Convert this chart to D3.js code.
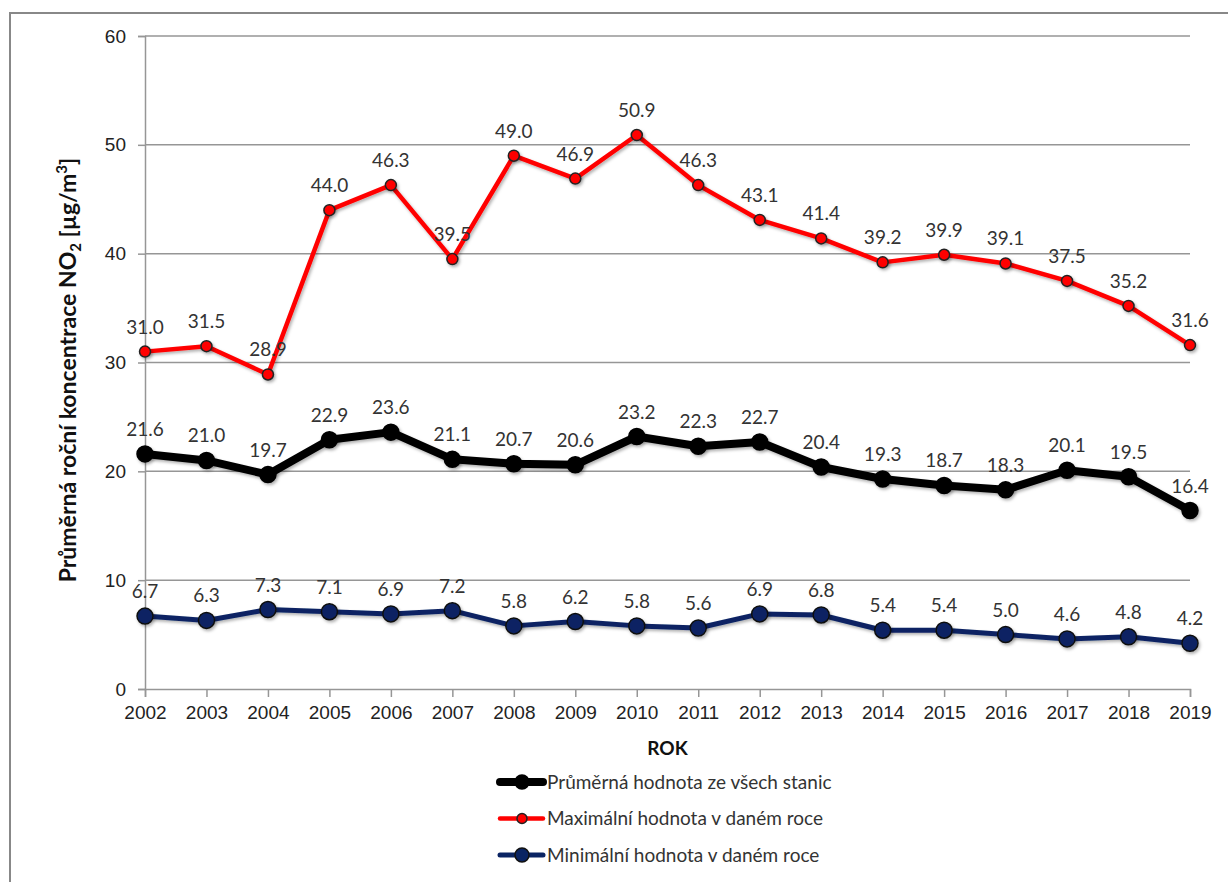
<!DOCTYPE html>
<html>
<head>
<meta charset="utf-8">
<script src="https://cdn.jsdelivr.net/npm/d3@7"></script>
<style>
  body { margin: 0; background: #fff; }
  svg { font-family: Lato, "Open Sans", sans-serif; }
</style>
</head>
<body>
<script>
var years = ["2002","2003","2004","2005","2006","2007","2008","2009","2010","2011","2012","2013","2014","2015","2016","2017","2018","2019"];
var avgValues = [21.6, 21.0, 19.7, 22.9, 23.6, 21.1, 20.7, 20.6, 23.2, 22.3, 22.7, 20.4, 19.3, 18.7, 18.3, 20.1, 19.5, 16.4];
var maxValues = [31.0, 31.5, 28.9, 44.0, 46.3, 39.5, 49.0, 46.9, 50.9, 46.3, 43.1, 41.4, 39.2, 39.9, 39.1, 37.5, 35.2, 31.6];
var minValues = [6.7, 6.3, 7.3, 7.1, 6.9, 7.2, 5.8, 6.2, 5.8, 5.6, 6.9, 6.8, 5.4, 5.4, 5.0, 4.6, 4.8, 4.2];
var yTicks = [0, 10, 20, 30, 40, 50, 60];
var seriesNames = ["Průměrná hodnota ze všech stanic", "Maximální hodnota v daném roce", "Minimální hodnota v daném roce"];

var W = 1228, H = 882,
    margin = {top: 36, right: 38, bottom: 193, left: 145},
    width = W - margin.left - margin.right,
    height = H - margin.top - margin.bottom;

var svg = d3.select("body").append("svg")
    .attr("width", W)
    .attr("height", H);

// soft shadow like the original
var defs = svg.append("defs");
var f = defs.append("filter").attr("id", "shadow").attr("x", "-50%").attr("y", "-50%").attr("width", "200%").attr("height", "200%");
f.append("feDropShadow").attr("dx", 1.5).attr("dy", 2).attr("stdDeviation", 1.5).attr("flood-color", "#000").attr("flood-opacity", 0.3);

// outer frame (right and bottom edges fall outside the picture)
svg.append("path")
    .attr("d", "M10," + H + "V13H" + W)
    .attr("fill", "none")
    .attr("stroke", "#888")
    .attr("stroke-width", 2);

var g = svg.append("g").attr("transform", "translate(" + margin.left + "," + margin.top + ")");

var x = d3.scalePoint().domain(years).range([0, width]);
var y = d3.scaleLinear().domain([0, 60]).range([height, 0]);

// gridlines
g.append("g")
  .selectAll("line")
  .data(yTicks.filter(function(d) { return d > 0; }))
  .enter().append("line")
    .attr("x1", 0).attr("x2", width)
    .attr("y1", function(d) { return y(d); })
    .attr("y2", function(d) { return y(d); })
    .attr("stroke", "#969696")
    .attr("stroke-width", 1.5);

var yAxis = g.append("g")
    .call(d3.axisLeft(y).tickValues(yTicks).tickSize(7).tickPadding(12));
var xAxis = g.append("g")
    .attr("transform", "translate(0," + height + ")")
    .call(d3.axisBottom(x).tickSize(8).tickPadding(5));

[yAxis, xAxis].forEach(function(a) {
  a.select(".domain").attr("stroke", "#969696").attr("stroke-width", 1.5);
  a.selectAll(".tick line").attr("stroke", "#969696").attr("stroke-width", 1.5);
  a.selectAll(".tick text").attr("fill", "#222").style("font-size", "19px");
});
xAxis.selectAll(".tick text").attr("dy", "0.9em");

// axis titles
g.append("text")
    .attr("x", width / 2)
    .attr("y", height + 66)
    .attr("text-anchor", "middle")
    .style("font-size", "19px")
    .style("font-weight", "bold")
    .attr("fill", "#111")
    .text("ROK");

var yt = svg.append("text")
    .attr("transform", "translate(76," + (margin.top + 334) + ") rotate(-90)")
    .attr("text-anchor", "middle")
    .style("font-size", "23px")
    .style("font-weight", "bold")
    .attr("fill", "#111");
yt.append("tspan").text("Průměrná roční koncentrace NO");
yt.append("tspan").attr("dy", 5).style("font-size", "15px").text("2");
yt.append("tspan").attr("dy", -5).text(" [µg/m");
yt.append("tspan").attr("dy", -9).style("font-size", "15px").text("3");
yt.append("tspan").attr("dy", 9).text("]");

var series = [
  {name: seriesNames[0], values: avgValues, line: "#000", lw: 8, r: 8, fill: "#000", stroke: "#000"},
  {name: seriesNames[1], values: maxValues, line: "#ff0000", lw: 4.5, r: 5.5, fill: "#ff0000", stroke: "#222"},
  {name: seriesNames[2], values: minValues, line: "#0a2463", lw: 5, r: 8, fill: "#0a2463", stroke: "#111"}
];

var line = d3.line()
    .x(function(d, i) { return x(years[i]); })
    .y(function(d) { return y(d); });

var s = g.selectAll(".series")
    .data(series)
    .enter().append("g")
    .attr("class", "series");

s.append("path")
    .attr("d", function(d) { return line(d.values); })
    .attr("fill", "none")
    .attr("stroke", function(d) { return d.line; })
    .attr("stroke-width", function(d) { return d.lw; })
    .attr("stroke-linejoin", "round")
    .attr("filter", "url(#shadow)");

s.selectAll("circle")
    .data(function(d) { return d.values.map(function(v, i) { return {v: v, i: i, s: d}; }); })
    .enter().append("circle")
    .attr("cx", function(d) { return x(years[d.i]); })
    .attr("cy", function(d) { return y(d.v); })
    .attr("r", function(d) { return d.s.r; })
    .attr("fill", function(d) { return d.s.fill; })
    .attr("stroke", function(d) { return d.s.stroke; })
    .attr("stroke-width", 1.5)
    .attr("filter", "url(#shadow)");

s.selectAll("text.lbl")
    .data(function(d) { return d.values.map(function(v, i) { return {v: v, i: i}; }); })
    .enter().append("text")
    .attr("class", "lbl")
    .attr("x", function(d) { return x(years[d.i]); })
    .attr("y", function(d) { return y(d.v) - 18; })
    .attr("text-anchor", "middle")
    .style("font-size", "19px")
    .attr("fill", "#333")
    .text(function(d) { return d3.format(".1f")(d.v); });

// legend
var legend = svg.append("g")
    .attr("transform", "translate(498,782)");

var li = legend.selectAll("g")
    .data(series)
    .enter().append("g")
    .attr("transform", function(d, i) { return "translate(0," + (i * 36.5) + ")"; });

li.append("line")
    .attr("x1", 2).attr("x2", 45)
    .attr("stroke", function(d) { return d.line; })
    .attr("stroke-width", function(d) { return d.lw; })
    .attr("stroke-linecap", "round");
li.append("circle")
    .attr("cx", 24)
    .attr("r", function(d) { return d.r === 8 ? 7 : 5; })
    .attr("fill", function(d) { return d.fill; })
    .attr("stroke", function(d) { return d.stroke; })
    .attr("stroke-width", 1.5);
li.append("text")
    .attr("x", 49)
    .attr("dy", "0.35em")
    .style("font-size", "19px")
    .attr("fill", "#333")
    .text(function(d) { return d.name; });
</script>
</body>
</html>
